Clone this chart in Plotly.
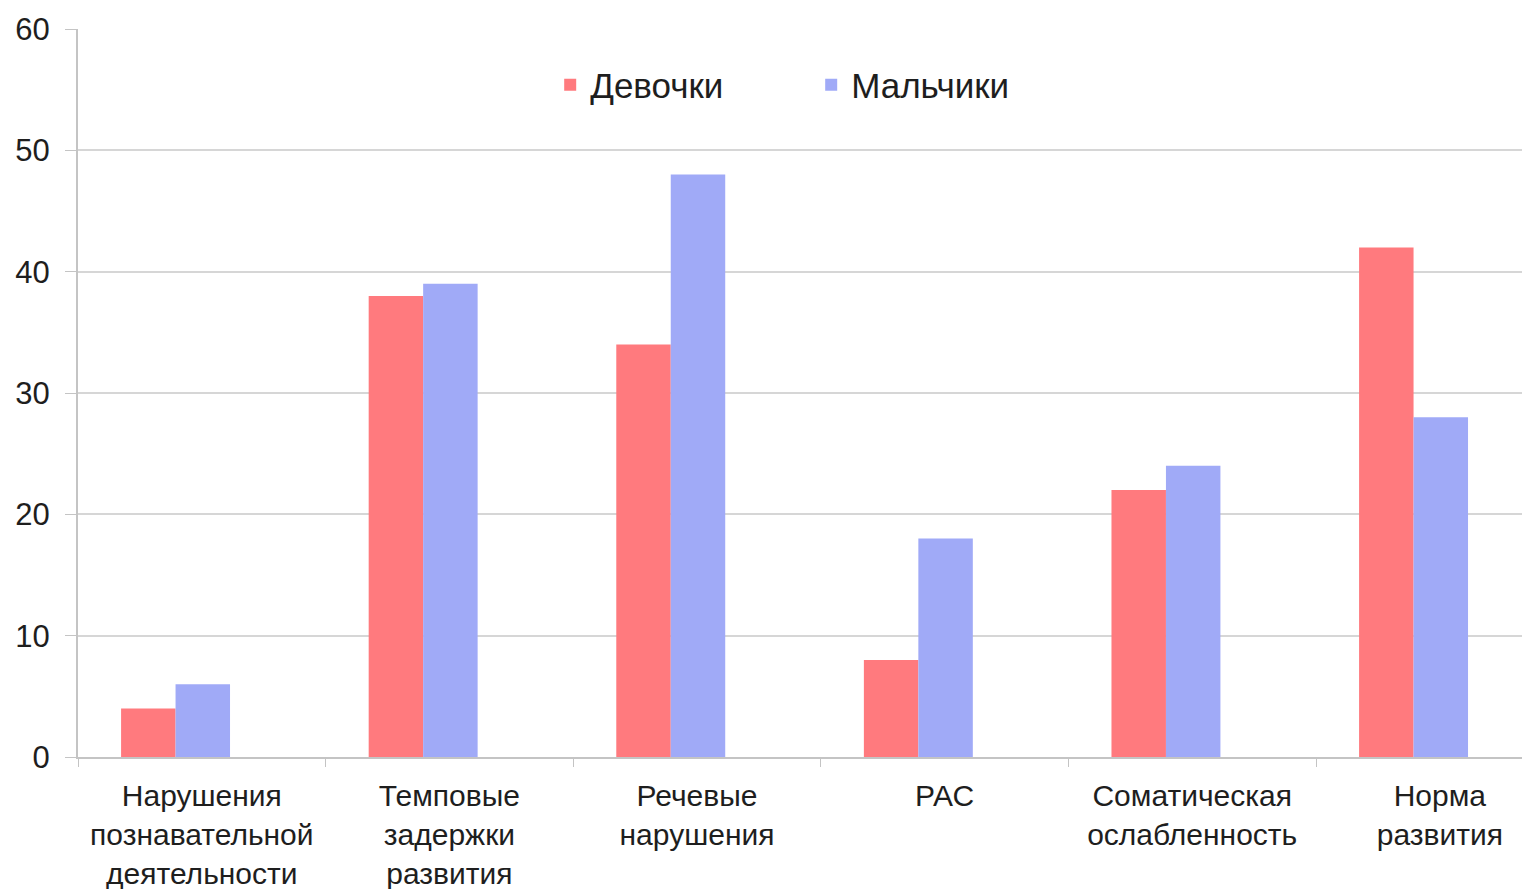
import plotly.graph_objects as go

categories = [
    "Нарушения<br>познавательной<br>деятельности",
    "Темповые<br>задержки<br>развития",
    "Речевые<br>нарушения",
    "РАС",
    "Соматическая<br>ослабленность",
    "Норма<br>развития",
]
girls = [4, 38, 34, 8, 22, 42]
boys = [6, 39, 48, 18, 24, 28]
y_ticks = [0, 10, 20, 30, 40, 50, 60]

FONT = "Liberation Sans, Arial, sans-serif"
TXT = "#1e1e1e"

fig = go.Figure()
fig.add_trace(go.Bar(
    x=categories, y=girls, name="Девочки",
    marker=dict(color="#ff7a7e", line=dict(width=0)),
    width=0.22, offset=-0.326,
))
fig.add_trace(go.Bar(
    x=categories, y=boys, name="Мальчики",
    marker=dict(color="#a0aaf7", line=dict(width=0)),
    width=0.22, offset=-0.106,
))

fig.update_layout(
    width=1522, height=889,
    margin=dict(l=78, r=0, t=29, b=132),
    paper_bgcolor="white", plot_bgcolor="white",
    font=dict(family=FONT, color=TXT),
    barmode="group",
    showlegend=True,
    legend=dict(
        orientation="h", x=0.327, xanchor="left", y=0.923, yanchor="middle",
        font=dict(size=35, family=FONT, color=TXT),
        entrywidth=216, entrywidthmode="pixels",
        itemwidth=30, bgcolor="rgba(0,0,0,0)",
    ),
    xaxis=dict(
        type="category", range=[-0.5, 5.332],
        showline=True, linecolor="#c4c4c4", linewidth=2,
        ticks="outside", tickson="boundaries", ticklen=8, tickcolor="#c4c4c4",
        showgrid=False,
        tickfont=dict(size=30, family=FONT, color=TXT),
        ticklabelstandoff=11,
    ),
    yaxis=dict(
        range=[0, 60], tickvals=y_ticks,
        showline=True, linecolor="#c4c4c4", linewidth=2,
        ticks="outside", ticklen=11, tickcolor="#c4c4c4",
        showgrid=True, gridcolor="#d6d6d6", gridwidth=1.5,
        zeroline=False,
        tickfont=dict(size=31, family=FONT, color=TXT),
        ticklabelstandoff=9,
    ),
)

fig.write_html("out.html")
